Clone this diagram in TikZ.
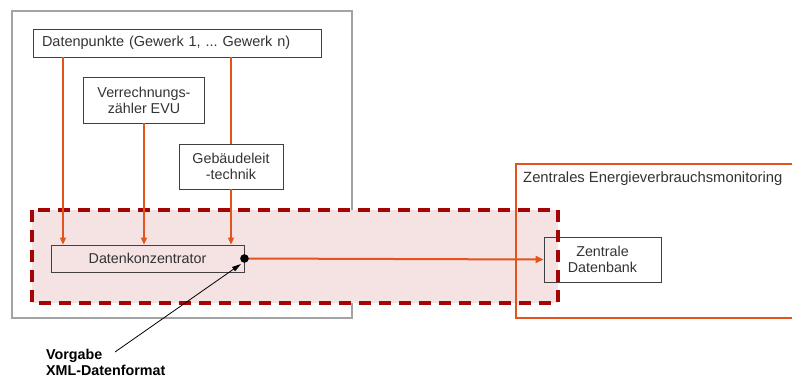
\documentclass[tikz,border=0pt]{standalone}
\usepackage{fontspec}
\setmainfont{Liberation Sans}
\usetikzlibrary{arrows.meta,calc}
\definecolor{framegray}{HTML}{A3A3A3}
\definecolor{boxline}{HTML}{404040}
\definecolor{txt}{HTML}{333333}
\definecolor{flow}{HTML}{E4531E}
\definecolor{zone}{HTML}{A50404}
\definecolor{zonefill}{HTML}{F5E2E2}
\tikzset{
  unit/.style={draw=boxline, line width=0.9pt, text=txt, inner sep=0pt,
    font=\fontsize{14.3}{16}\selectfont, align=center},
  feed/.style={draw=flow, line width=1.5pt, -{Triangle[length=7pt,width=6pt]}},
  link/.style={draw=flow, line width=2pt, -{Triangle[length=8pt,width=7pt]}},
  hint/.style={draw=black, line width=0.8pt, -{Triangle[length=9pt,width=5pt]}}
}
\begin{document}
\begin{tikzpicture}[x=1pt,y=-1pt]
\useasboundingbox (0,0) rectangle (792,385);

% building frame
\draw[framegray, line width=1.8pt] (12,11) rectangle (352,318);

% data concentrator zone
\fill[zonefill] (32,210) rectangle (558,303);

% monitoring frame (open to the right)
\draw[flow, line width=2pt] (792,164) -- (516,164) -- (516,318) -- (792,318);
\node[text=txt, font=\fontsize{14.8}{16}\selectfont, anchor=west, inner sep=0pt]
  (mon) at (523,179) {Zentrales Energieverbrauchsmonitoring};

% sources
\node[unit, minimum width=288pt, minimum height=28pt, text width=270pt,
  inner xsep=9pt, align=left, font=\fontsize{14.5}{16}\selectfont]
  (dp) at (177,43) {\frenchspacing Datenpunkte (Gewerk 1, ... Gewerk n)};
\node[unit, minimum width=121pt, minimum height=46pt] (vz) at (144,100)
  {Verrechnungs-\\zähler EVU};
\node[unit, minimum width=104pt, minimum height=45pt] (gl) at (231,166.5)
  {Gebäudeleit\\-technik};
\node[unit, minimum width=193pt, minimum height=27pt] (dk) at (147.5,258.5)
  {Datenkonzentrator};
\node[unit, minimum width=117pt, minimum height=45pt] (zd) at (602.5,259.5)
  {Zentrale\\Datenbank};

% zone border on top
\draw[zone, line width=3.4pt, dash pattern=on 12pt off 8pt] (32,210) rectangle (558,303);

% feeds into the concentrator
\coordinate (colA) at (63,0);
\draw[feed] (dp.south -| colA) -- (dk.north -| colA);
\draw[feed] (vz.south) -- (dk.north -| vz.south);
\draw[flow, line width=1.5pt] (dp.south -| gl.north) -- (gl.north);
\draw[feed] (gl.south) -- (dk.north -| gl.south);

% transfer to the central database
\coordinate (port) at (dk.east);
\draw[link] (port) -- (zd.west);
\fill[black] (port) circle (4.3pt);

% format note
\node[anchor=north west, inner sep=0pt, align=left, font=\bfseries\fontsize{14.3}{15.5}\selectfont]
  (fmt) at (46,349) {Vorgabe\\XML-Datenformat};
\coordinate (fmtstart) at (115,352);
\coordinate (fmttip) at ($(port)+(-3.5,5.5)$);
\draw[hint] (fmtstart) -- (fmttip);
\end{tikzpicture}
\end{document}
